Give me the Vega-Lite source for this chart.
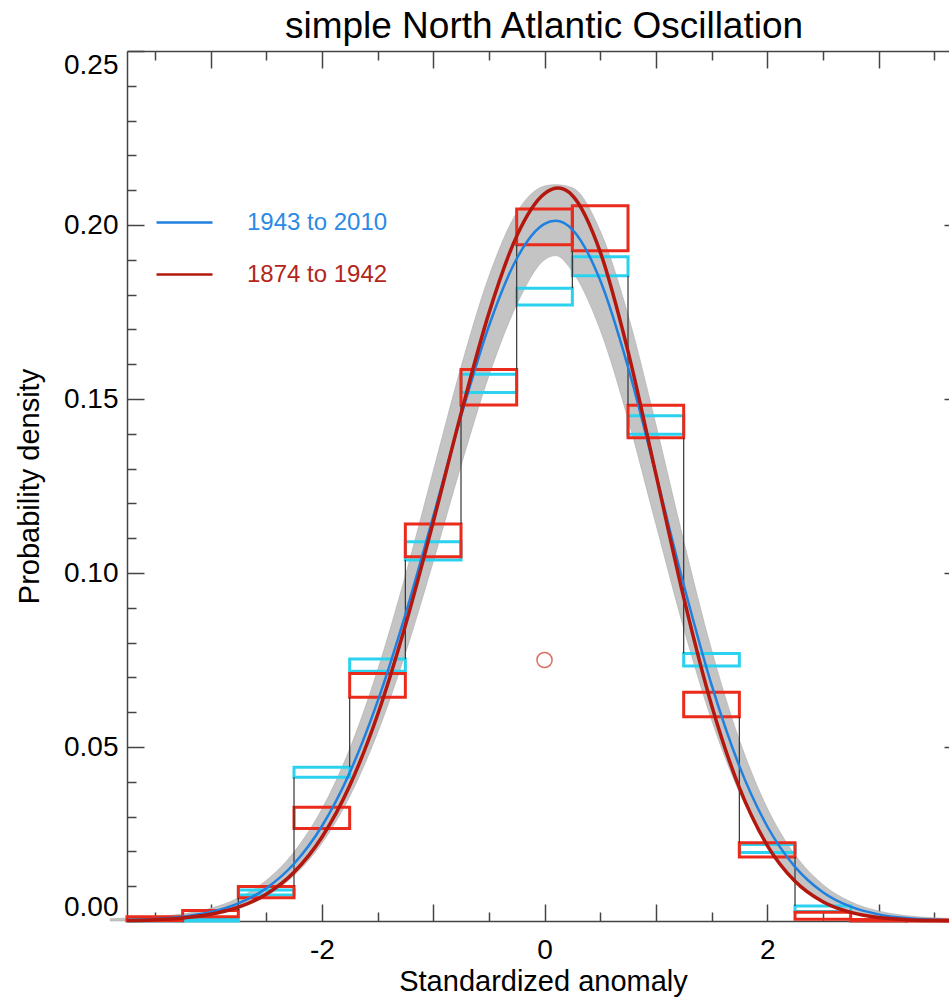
{
  "$schema": "https://vega.github.io/schema/vega-lite/v6.json",
  "width": 822,
  "height": 870,
  "autosize": {"type": "none"},
  "padding": {"left": 127, "top": 51, "right": 0, "bottom": 78},
  "title": {
    "text": "simple North Atlantic Oscillation",
    "font": "Liberation Sans",
    "fontSize": 37,
    "fontWeight": "normal",
    "color": "black",
    "anchor": "middle",
    "baseline": "alphabetic",
    "offset": -25,
    "dx": 6
  },
  "config": {
    "view": {"stroke": null},
    "axis": {"grid": false}
  },
  "datasets": {
    "band": [
      {"x": -3.9, "lo": 0, "hi": 0.00068},
      {"x": -3.75, "lo": 0, "hi": 0.0008},
      {"x": -3.5, "lo": 0, "hi": 0.0012},
      {"x": -3.25, "lo": 0.00046, "hi": 0.00203},
      {"x": -3.0, "lo": 0.00152, "hi": 0.00364},
      {"x": -2.75, "lo": 0.00353, "hi": 0.00659},
      {"x": -2.5, "lo": 0.0071, "hi": 0.01166},
      {"x": -2.25, "lo": 0.01305, "hi": 0.01983},
      {"x": -2.0, "lo": 0.02231, "hi": 0.03215},
      {"x": -1.75, "lo": 0.03579, "hi": 0.04945},
      {"x": -1.5, "lo": 0.05401, "hi": 0.07203},
      {"x": -1.25, "lo": 0.07686, "hi": 0.09924},
      {"x": -1.0, "lo": 0.10317, "hi": 0.12923},
      {"x": -0.75, "lo": 0.13084, "hi": 0.15916},
      {"x": -0.5, "lo": 0.15663, "hi": 0.18518},
      {"x": -0.25, "lo": 0.17705, "hi": 0.20355},
      {"x": 0.0, "lo": 0.19, "hi": 0.2112},
      {"x": 0.1, "lo": 0.1912, "hi": 0.2116},
      {"x": 0.25, "lo": 0.18668, "hi": 0.21072},
      {"x": 0.5, "lo": 0.16987, "hi": 0.19833},
      {"x": 0.75, "lo": 0.14418, "hi": 0.17422},
      {"x": 1.0, "lo": 0.11405, "hi": 0.14275},
      {"x": 1.25, "lo": 0.08416, "hi": 0.10924},
      {"x": 1.5, "lo": 0.05782, "hi": 0.07798},
      {"x": 1.75, "lo": 0.03698, "hi": 0.05202},
      {"x": 2.0, "lo": 0.02198, "hi": 0.03248},
      {"x": 2.25, "lo": 0.01207, "hi": 0.01901},
      {"x": 2.5, "lo": 0.00605, "hi": 0.01049},
      {"x": 2.75, "lo": 0.00269, "hi": 0.00553},
      {"x": 3.0, "lo": 0.00095, "hi": 0.00287},
      {"x": 3.25, "lo": 0.00011, "hi": 0.00154},
      {"x": 3.5, "lo": 0, "hi": 0.00092},
      {"x": 3.75, "lo": 0, "hi": 0.00066}
    ],
    "boxes": [
      {"series": "1943-2010", "x0": -3.75, "x1": -3.25, "lo": 0.0, "hi": 0.0004},
      {"series": "1943-2010", "x0": -3.25, "x1": -2.75, "lo": 0.0, "hi": 0.0005},
      {"series": "1943-2010", "x0": -2.75, "x1": -2.25, "lo": 0.0075, "hi": 0.0089},
      {"series": "1943-2010", "x0": -2.25, "x1": -1.75, "lo": 0.0413, "hi": 0.0442},
      {"series": "1943-2010", "x0": -1.75, "x1": -1.25, "lo": 0.0718, "hi": 0.0753},
      {"series": "1943-2010", "x0": -1.25, "x1": -0.75, "lo": 0.1037, "hi": 0.109},
      {"series": "1943-2010", "x0": -0.75, "x1": -0.25, "lo": 0.1519, "hi": 0.1571},
      {"series": "1943-2010", "x0": -0.25, "x1": 0.25, "lo": 0.177, "hi": 0.1818},
      {"series": "1943-2010", "x0": 0.25, "x1": 0.75, "lo": 0.1854, "hi": 0.1909},
      {"series": "1943-2010", "x0": 0.75, "x1": 1.25, "lo": 0.1399, "hi": 0.1452},
      {"series": "1943-2010", "x0": 1.25, "x1": 1.75, "lo": 0.0733, "hi": 0.0769},
      {"series": "1943-2010", "x0": 1.75, "x1": 2.25, "lo": 0.0197, "hi": 0.022},
      {"series": "1943-2010", "x0": 2.25, "x1": 2.75, "lo": 0.0027, "hi": 0.0043},
      {"series": "1943-2010", "x0": 2.75, "x1": 3.25, "lo": 0.0, "hi": 0.0003},
      {"series": "1874-1942", "x0": -3.75, "x1": -3.25, "lo": 0.0001, "hi": 0.0012},
      {"series": "1874-1942", "x0": -3.25, "x1": -2.75, "lo": 0.0012, "hi": 0.003},
      {"series": "1874-1942", "x0": -2.75, "x1": -2.25, "lo": 0.0067, "hi": 0.0099},
      {"series": "1874-1942", "x0": -2.25, "x1": -1.75, "lo": 0.0266, "hi": 0.0327},
      {"series": "1874-1942", "x0": -1.75, "x1": -1.25, "lo": 0.0643, "hi": 0.0711},
      {"series": "1874-1942", "x0": -1.25, "x1": -0.75, "lo": 0.1047, "hi": 0.1141},
      {"series": "1874-1942", "x0": -0.75, "x1": -0.25, "lo": 0.1483, "hi": 0.1585},
      {"series": "1874-1942", "x0": -0.25, "x1": 0.25, "lo": 0.1943, "hi": 0.2046},
      {"series": "1874-1942", "x0": 0.25, "x1": 0.75, "lo": 0.1926, "hi": 0.2055},
      {"series": "1874-1942", "x0": 0.75, "x1": 1.25, "lo": 0.1389, "hi": 0.1482},
      {"series": "1874-1942", "x0": 1.25, "x1": 1.75, "lo": 0.0587, "hi": 0.0657},
      {"series": "1874-1942", "x0": 1.75, "x1": 2.25, "lo": 0.0184, "hi": 0.0225},
      {"series": "1874-1942", "x0": 2.25, "x1": 2.75, "lo": 0.0005, "hi": 0.0025},
      {"series": "1874-1942", "x0": 2.75, "x1": 3.25, "lo": 0.0, "hi": 0.0004},
      {"series": "1874-1942", "x0": 3.25, "x1": 3.75, "lo": 0.0, "hi": 0.0003}
    ],
    "steps": [
      {"x": -2.75, "lo": 0.003, "hi": 0.0067},
      {"x": -2.25, "lo": 0.0099, "hi": 0.0413},
      {"x": -1.75, "lo": 0.0442, "hi": 0.0643},
      {"x": -1.25, "lo": 0.0753, "hi": 0.1037},
      {"x": -0.75, "lo": 0.1141, "hi": 0.1483},
      {"x": -0.25, "lo": 0.1585, "hi": 0.1943},
      {"x": 0.25, "lo": 0.1818, "hi": 0.1926},
      {"x": 0.75, "lo": 0.1482, "hi": 0.1854},
      {"x": 1.25, "lo": 0.0769, "hi": 0.1389},
      {"x": 1.75, "lo": 0.0225, "hi": 0.0587},
      {"x": 2.25, "lo": 0.0043, "hi": 0.0184}
    ],
    "recent": [
      {"period": "1943 to 2010", "x": -3.75, "y": 0.00024},
      {"period": "1943 to 2010", "x": -3.5, "y": 0.00056},
      {"period": "1943 to 2010", "x": -3.25, "y": 0.00124},
      {"period": "1943 to 2010", "x": -3.0, "y": 0.00258},
      {"period": "1943 to 2010", "x": -2.75, "y": 0.00506},
      {"period": "1943 to 2010", "x": -2.5, "y": 0.00938},
      {"period": "1943 to 2010", "x": -2.25, "y": 0.01644},
      {"period": "1943 to 2010", "x": -2.0, "y": 0.02723},
      {"period": "1943 to 2010", "x": -1.75, "y": 0.04262},
      {"period": "1943 to 2010", "x": -1.5, "y": 0.06302},
      {"period": "1943 to 2010", "x": -1.25, "y": 0.08805},
      {"period": "1943 to 2010", "x": -1.0, "y": 0.1162},
      {"period": "1943 to 2010", "x": -0.75, "y": 0.145},
      {"period": "1943 to 2010", "x": -0.5, "y": 0.1709},
      {"period": "1943 to 2010", "x": -0.25, "y": 0.1903},
      {"period": "1943 to 2010", "x": 0.0, "y": 0.2003},
      {"period": "1943 to 2010", "x": 0.1, "y": 0.2012},
      {"period": "1943 to 2010", "x": 0.25, "y": 0.1987},
      {"period": "1943 to 2010", "x": 0.5, "y": 0.1841},
      {"period": "1943 to 2010", "x": 0.75, "y": 0.1592},
      {"period": "1943 to 2010", "x": 1.0, "y": 0.1284},
      {"period": "1943 to 2010", "x": 1.25, "y": 0.0967},
      {"period": "1943 to 2010", "x": 1.5, "y": 0.0679},
      {"period": "1943 to 2010", "x": 1.75, "y": 0.0445},
      {"period": "1943 to 2010", "x": 2.0, "y": 0.02723},
      {"period": "1943 to 2010", "x": 2.25, "y": 0.01554},
      {"period": "1943 to 2010", "x": 2.5, "y": 0.00827},
      {"period": "1943 to 2010", "x": 2.75, "y": 0.00411},
      {"period": "1943 to 2010", "x": 3.0, "y": 0.00191},
      {"period": "1943 to 2010", "x": 3.25, "y": 0.00083},
      {"period": "1943 to 2010", "x": 3.5, "y": 0.00033},
      {"period": "1943 to 2010", "x": 3.75, "y": 0.00013}
    ],
    "early": [
      {"period": "1874 to 1942", "x": -3.75, "y": 0.00016},
      {"period": "1874 to 1942", "x": -3.5, "y": 0.00038},
      {"period": "1874 to 1942", "x": -3.25, "y": 0.00088},
      {"period": "1874 to 1942", "x": -3.0, "y": 0.00193},
      {"period": "1874 to 1942", "x": -2.75, "y": 0.00397},
      {"period": "1874 to 1942", "x": -2.5, "y": 0.00768},
      {"period": "1874 to 1942", "x": -2.25, "y": 0.014},
      {"period": "1874 to 1942", "x": -2.0, "y": 0.02405},
      {"period": "1874 to 1942", "x": -1.75, "y": 0.03888},
      {"period": "1874 to 1942", "x": -1.5, "y": 0.0592},
      {"period": "1874 to 1942", "x": -1.25, "y": 0.0849},
      {"period": "1874 to 1942", "x": -1.0, "y": 0.1146},
      {"period": "1874 to 1942", "x": -0.75, "y": 0.1458},
      {"period": "1874 to 1942", "x": -0.5, "y": 0.1746},
      {"period": "1874 to 1942", "x": -0.25, "y": 0.1968},
      {"period": "1874 to 1942", "x": 0.0, "y": 0.209},
      {"period": "1874 to 1942", "x": 0.125, "y": 0.2106},
      {"period": "1874 to 1942", "x": 0.25, "y": 0.2085},
      {"period": "1874 to 1942", "x": 0.5, "y": 0.1923},
      {"period": "1874 to 1942", "x": 0.75, "y": 0.1637},
      {"period": "1874 to 1942", "x": 1.0, "y": 0.1285},
      {"period": "1874 to 1942", "x": 1.25, "y": 0.093},
      {"period": "1874 to 1942", "x": 1.5, "y": 0.0621},
      {"period": "1874 to 1942", "x": 1.75, "y": 0.0383},
      {"period": "1874 to 1942", "x": 2.0, "y": 0.02176},
      {"period": "1874 to 1942", "x": 2.25, "y": 0.01141},
      {"period": "1874 to 1942", "x": 2.5, "y": 0.00552},
      {"period": "1874 to 1942", "x": 2.75, "y": 0.00246},
      {"period": "1874 to 1942", "x": 3.0, "y": 0.00101},
      {"period": "1874 to 1942", "x": 3.25, "y": 0.00039},
      {"period": "1874 to 1942", "x": 3.5, "y": 0.00014},
      {"period": "1874 to 1942", "x": 3.75, "y": 0.00004}
    ],
    "marker": [
      {"x": 0, "y": 0.075}
    ]
  },
  "layer": [
    {
      "data": {"name": "band"},
      "mark": {"type": "area", "color": "#c4c4c4", "stroke": "#ababab", "strokeWidth": 0.6, "interpolate": "monotone"},
      "encoding": {
        "x": {
          "field": "x", "type": "quantitative",
          "scale": {"domain": [-3.75, 3.633], "nice": false, "zero": false},
          "axis": {
            "orient": "bottom",
            "values": [-3.5, -3, -2.5, -2, -1.5, -1, -0.5, 0, 0.5, 1, 1.5, 2, 2.5, 3, 3.5],
            "labelExpr": "abs(datum.value % 2) < 0.001 ? '' + datum.value : ''",
            "labelFont": "Liberation Sans", "labelFontSize": 28, "labelColor": "black",
            "labelPadding": 32, "labelOverlap": false, "labelFlush": false,
            "tickSize": {"condition": {"test": "abs(datum.value - round(datum.value)) < 0.001", "value": -17}, "value": -9},
            "tickColor": "#444444", "tickWidth": 1.5,
            "domainColor": "#444444", "domainWidth": 1.5,
            "title": "Standardized anomaly",
            "titleFont": "Liberation Sans", "titleFontSize": 29, "titleFontWeight": "normal",
            "titleColor": "black", "titlePadding": -5, "titleX": 416
          }
        },
        "y": {
          "field": "hi", "type": "quantitative",
          "scale": {"domain": [0, 0.25], "nice": false, "zero": false},
          "axis": {
            "orient": "left",
            "values": [0, 0.01, 0.02, 0.03, 0.04, 0.05, 0.06, 0.07, 0.08, 0.09, 0.1, 0.11, 0.12, 0.13, 0.14, 0.15, 0.16, 0.17, 0.18, 0.19, 0.2, 0.21, 0.22, 0.23, 0.24, 0.25],
            "labelExpr": "abs(datum.value * 20 - round(datum.value * 20)) < 0.001 ? format(datum.value, '.2f') : ''",
            "labelFont": "Liberation Sans", "labelFontSize": 28, "labelColor": "black",
            "labelPadding": 26, "labelOverlap": false, "labelFlush": true,
            "tickSize": {"condition": {"test": "abs(datum.value * 20 - round(datum.value * 20)) < 0.001", "value": -17}, "value": -9},
            "tickColor": "#444444", "tickWidth": 1.5,
            "domainColor": "#444444", "domainWidth": 1.5,
            "title": "Probability density",
            "titleFont": "Liberation Sans", "titleFontSize": 29, "titleFontWeight": "normal",
            "titleColor": "black", "titlePadding": 19
          }
        },
        "y2": {"field": "lo"}
      }
    },
    {
      "data": {"name": "boxes"},
      "mark": {"type": "rect", "fillOpacity": 0, "strokeWidth": 3},
      "encoding": {
        "x": {
          "field": "x0", "type": "quantitative",
          "scale": {"domain": [-3.75, 3.633], "nice": false, "zero": false},
          "axis": {
            "orient": "top",
            "values": [-3.5, -3, -2.5, -2, -1.5, -1, -0.5, 0, 0.5, 1, 1.5, 2, 2.5, 3, 3.5],
            "labels": false,
            "tickSize": {"condition": {"test": "abs(datum.value - round(datum.value)) < 0.001", "value": -17}, "value": -9},
            "tickColor": "#444444", "tickWidth": 1.5,
            "domainColor": "#444444", "domainWidth": 1.5,
            "title": null
          }
        },
        "x2": {"field": "x1"},
        "y": {
          "field": "hi", "type": "quantitative",
          "scale": {"domain": [0, 0.25], "nice": false, "zero": false},
          "axis": {
            "orient": "right",
            "values": [0.05, 0.1, 0.15, 0.2],
            "labels": false, "domain": false,
            "tickSize": -5, "tickColor": "#444444", "tickWidth": 1.5,
            "title": null
          }
        },
        "y2": {"field": "lo"},
        "stroke": {
          "field": "series", "type": "nominal",
          "scale": {"domain": ["1943-2010", "1874-1942"], "range": ["#2ad2f0", "#ea2b1b"]},
          "legend": null
        }
      }
    },
    {
      "data": {"name": "steps"},
      "mark": {"type": "rule", "color": "#333333", "strokeWidth": 1.2},
      "encoding": {
        "x": {"field": "x", "type": "quantitative", "axis": null},
        "y": {"field": "lo", "type": "quantitative", "axis": null},
        "y2": {"field": "hi"}
      }
    },
    {
      "mark": {"type": "rule", "color": "#111111", "strokeWidth": 1.5},
      "encoding": {
        "x": {"datum": 0, "type": "quantitative", "axis": null}
      }
    },
    {
      "data": {"name": "recent"},
      "mark": {"type": "line", "interpolate": "monotone", "strokeWidth": 2.5},
      "encoding": {
        "x": {"field": "x", "type": "quantitative", "axis": null},
        "y": {"field": "y", "type": "quantitative", "axis": null},
        "color": {
          "field": "period", "type": "nominal",
          "scale": {"domain": ["1943 to 2010", "1874 to 1942"], "range": ["#1f80e0", "#b3170d"]},
          "legend": {
            "orient": "none", "legendX": 28, "legendY": 142,
            "title": null, "padding": 0, "rowPadding": 10,
            "symbolType": "stroke", "symbolSize": 3136, "symbolStrokeWidth": 2.5,
            "labelFont": "Liberation Sans", "labelFontSize": 24, "labelOffset": 33,
            "labelColor": {"expr": "datum.value === '1943 to 2010' ? '#2a8ae6' : '#b3251a'"}
          }
        }
      }
    },
    {
      "data": {"name": "early"},
      "mark": {"type": "line", "interpolate": "monotone", "strokeWidth": 3.5},
      "encoding": {
        "x": {"field": "x", "type": "quantitative", "axis": null},
        "y": {"field": "y", "type": "quantitative", "axis": null},
        "color": {"field": "period", "type": "nominal"}
      }
    },
    {
      "data": {"name": "marker"},
      "mark": {"type": "point", "shape": "circle", "filled": false, "size": 230, "stroke": "#cc3322", "strokeWidth": 1.5},
      "encoding": {
        "x": {"field": "x", "type": "quantitative", "axis": null},
        "y": {"field": "y", "type": "quantitative", "axis": null}
      }
    }
  ],
  "resolve": {"axis": {"x": "independent", "y": "independent"}}
}
